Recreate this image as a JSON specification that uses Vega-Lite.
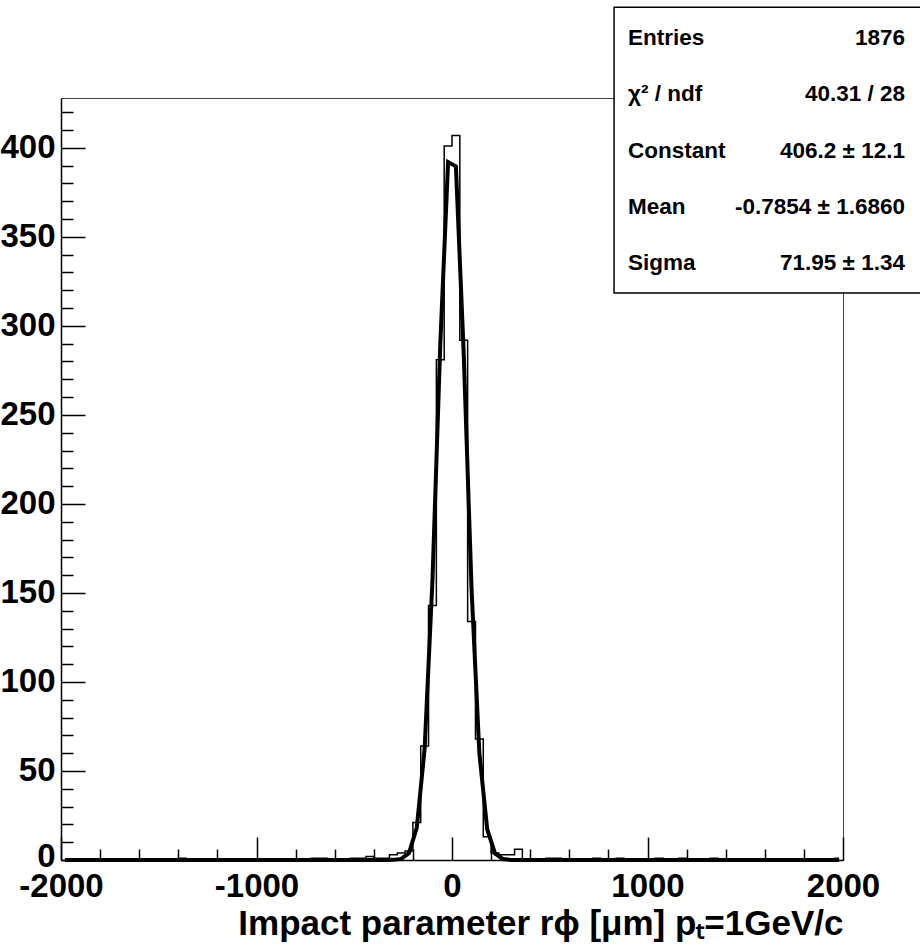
{
  "$schema": "https://vega.github.io/schema/vega-lite/v6.json",
  "width": 782,
  "height": 762,
  "autosize": {"type": "none"},
  "padding": {"left": 61, "top": 98, "right": 77, "bottom": 90},
  "background": "white",
  "config": {
    "view": {"stroke": "#444", "strokeWidth": 1},
    "axis": {
      "grid": false,
      "domainColor": "black",
      "domainWidth": 1.5,
      "tickColor": "black",
      "tickWidth": 1.5,
      "labelColor": "black",
      "labelFont": "Liberation Sans",
      "labelFontWeight": "bold",
      "labelFontSize": 33,
      "labelFlush": false,
      "labelOverlap": false,
      "titleColor": "black",
      "titleFont": "Liberation Sans",
      "titleFontWeight": "bold",
      "titleFontSize": 35
    }
  },
  "datasets": {
    "hist": [
      {"x": -1980, "n": 0}, {"x": -1940, "n": 0}, {"x": -1900, "n": 0}, {"x": -1860, "n": 0}, {"x": -1820, "n": 0},
      {"x": -1780, "n": 0}, {"x": -1740, "n": 0}, {"x": -1700, "n": 0}, {"x": -1660, "n": 0}, {"x": -1620, "n": 0},
      {"x": -1580, "n": 0}, {"x": -1540, "n": 0}, {"x": -1500, "n": 0}, {"x": -1460, "n": 0}, {"x": -1420, "n": 0},
      {"x": -1380, "n": 1}, {"x": -1340, "n": 0}, {"x": -1300, "n": 0}, {"x": -1260, "n": 0}, {"x": -1220, "n": 0},
      {"x": -1180, "n": 0}, {"x": -1140, "n": 0}, {"x": -1100, "n": 0}, {"x": -1060, "n": 0}, {"x": -1020, "n": 0},
      {"x": -980, "n": 0}, {"x": -940, "n": 0}, {"x": -900, "n": 0}, {"x": -860, "n": 0}, {"x": -820, "n": 0},
      {"x": -780, "n": 0}, {"x": -740, "n": 0}, {"x": -700, "n": 1}, {"x": -660, "n": 1}, {"x": -620, "n": 0},
      {"x": -580, "n": 0}, {"x": -540, "n": 0}, {"x": -500, "n": 1}, {"x": -460, "n": 1}, {"x": -420, "n": 2},
      {"x": -380, "n": 1}, {"x": -340, "n": 1}, {"x": -300, "n": 3}, {"x": -260, "n": 4}, {"x": -220, "n": 5},
      {"x": -180, "n": 21}, {"x": -140, "n": 64}, {"x": -100, "n": 143}, {"x": -60, "n": 281}, {"x": -20, "n": 401},
      {"x": 20, "n": 407}, {"x": 60, "n": 292}, {"x": 100, "n": 134}, {"x": 140, "n": 68}, {"x": 180, "n": 13},
      {"x": 220, "n": 4}, {"x": 260, "n": 3}, {"x": 300, "n": 3}, {"x": 340, "n": 6}, {"x": 380, "n": 0},
      {"x": 420, "n": 0}, {"x": 460, "n": 0}, {"x": 500, "n": 1}, {"x": 540, "n": 1}, {"x": 580, "n": 0},
      {"x": 620, "n": 0}, {"x": 660, "n": 0}, {"x": 700, "n": 0}, {"x": 740, "n": 1}, {"x": 780, "n": 0},
      {"x": 820, "n": 0}, {"x": 860, "n": 1}, {"x": 900, "n": 0}, {"x": 940, "n": 0}, {"x": 980, "n": 0},
      {"x": 1020, "n": 0}, {"x": 1060, "n": 1}, {"x": 1100, "n": 0}, {"x": 1140, "n": 0}, {"x": 1180, "n": 1},
      {"x": 1220, "n": 0}, {"x": 1260, "n": 0}, {"x": 1300, "n": 0}, {"x": 1340, "n": 1}, {"x": 1380, "n": 0},
      {"x": 1420, "n": 0}, {"x": 1460, "n": 0}, {"x": 1500, "n": 0}, {"x": 1540, "n": 0}, {"x": 1580, "n": 0},
      {"x": 1620, "n": 0}, {"x": 1660, "n": 0}, {"x": 1700, "n": 0}, {"x": 1740, "n": 0}, {"x": 1780, "n": 0},
      {"x": 1820, "n": 0}, {"x": 1860, "n": 0}, {"x": 1900, "n": 0}, {"x": 1940, "n": 0}, {"x": 1980, "n": 1}
    ],
    "fit": [
      {"x": -1980, "f": 0}, {"x": -380, "f": 0.0003}, {"x": -340, "f": 0.006}, {"x": -300, "f": 0.071},
      {"x": -260, "f": 0.617}, {"x": -220, "f": 3.92}, {"x": -180, "f": 18.26}, {"x": -140, "f": 62.5},
      {"x": -100, "f": 157.0}, {"x": -60, "f": 289.5}, {"x": -20, "f": 392.0}, {"x": 20, "f": 389.6},
      {"x": 60, "f": 284.3}, {"x": 100, "f": 152.3}, {"x": 140, "f": 59.9}, {"x": 180, "f": 17.29},
      {"x": 220, "f": 3.66}, {"x": 260, "f": 0.57}, {"x": 300, "f": 0.065}, {"x": 340, "f": 0.0055},
      {"x": 380, "f": 0.0002}, {"x": 1980, "f": 0}
    ]
  },
  "layer": [
    {
      "data": {"name": "hist"},
      "mark": {"type": "line", "interpolate": "step", "color": "black", "strokeWidth": 1.5},
      "encoding": {
        "x": {
          "field": "x", "type": "quantitative",
          "scale": {"domain": [-2000, 2000], "nice": false, "zero": false},
          "axis": {
            "values": [-2000, -1800, -1600, -1400, -1200, -1000, -800, -600, -400, -200, 0, 200, 400, 600, 800, 1000, 1200, 1400, 1600, 1800, 2000],
            "tickCount": 100,
            "tickSize": {"condition": {"test": "datum.value % 1000 === 0", "value": -23}, "value": -11},
            "labelExpr": "datum.value % 1000 === 0 ? '' + datum.value : ''",
            "labelPadding": 33,
            "title": "Impact parameter rϕ [μm] pₜ=1GeV/c",
            "titleAnchor": "end",
            "titlePadding": -9
          }
        },
        "y": {
          "field": "n", "type": "quantitative",
          "scale": {"domain": [0, 428], "nice": false},
          "axis": {
            "values": [0, 10, 20, 30, 40, 50, 60, 70, 80, 90, 100, 110, 120, 130, 140, 150, 160, 170, 180, 190, 200, 210, 220, 230, 240, 250, 260, 270, 280, 290, 300, 310, 320, 330, 340, 350, 360, 370, 380, 390, 400, 410, 420],
            "tickCount": 100,
            "tickSize": {"condition": {"test": "datum.value % 50 === 0", "value": -24}, "value": -12},
            "labelExpr": "datum.value % 50 === 0 ? '' + datum.value : ''",
            "labelOffset": {"condition": {"test": "datum.value === 0", "value": -4}, "value": 0},
            "labelPadding": 30,
            "title": null
          }
        }
      }
    },
    {
      "data": {"name": "fit"},
      "mark": {"type": "line", "color": "black", "strokeWidth": 4},
      "encoding": {
        "x": {"field": "x", "type": "quantitative"},
        "y": {"field": "f", "type": "quantitative"}
      }
    },
    {
      "data": {"values": [{}]},
      "mark": {"type": "rect", "fill": "white", "stroke": "black", "strokeWidth": 1.5},
      "encoding": {
        "x": {"datum": 829, "type": "quantitative"},
        "x2": {"datum": 2400},
        "y": {"datum": 479, "type": "quantitative"},
        "y2": {"datum": 318.5}
      }
    },
    {
      "data": {"values": [{}]},
      "mark": {
        "type": "text",
        "text": ["Entries", "χ² / ndf", "Constant", "Mean", "Sigma"],
        "align": "left", "baseline": "alphabetic",
        "font": "Liberation Sans", "fontWeight": "bold", "fontSize": 22.5,
        "lineHeight": 56.3, "color": "black"
      },
      "encoding": {
        "x": {"datum": 900, "type": "quantitative"},
        "y": {"datum": 457.8, "type": "quantitative"}
      }
    },
    {
      "data": {"values": [{}]},
      "mark": {
        "type": "text",
        "text": ["1876", "40.31 / 28", "406.2 ± 12.1", "-0.7854 ± 1.6860", "71.95 ± 1.34"],
        "align": "right", "baseline": "alphabetic",
        "font": "Liberation Sans", "fontWeight": "bold", "fontSize": 22.5,
        "lineHeight": 56.3, "color": "black"
      },
      "encoding": {
        "x": {"datum": 2317, "type": "quantitative"},
        "y": {"datum": 457.8, "type": "quantitative"}
      }
    }
  ]
}
